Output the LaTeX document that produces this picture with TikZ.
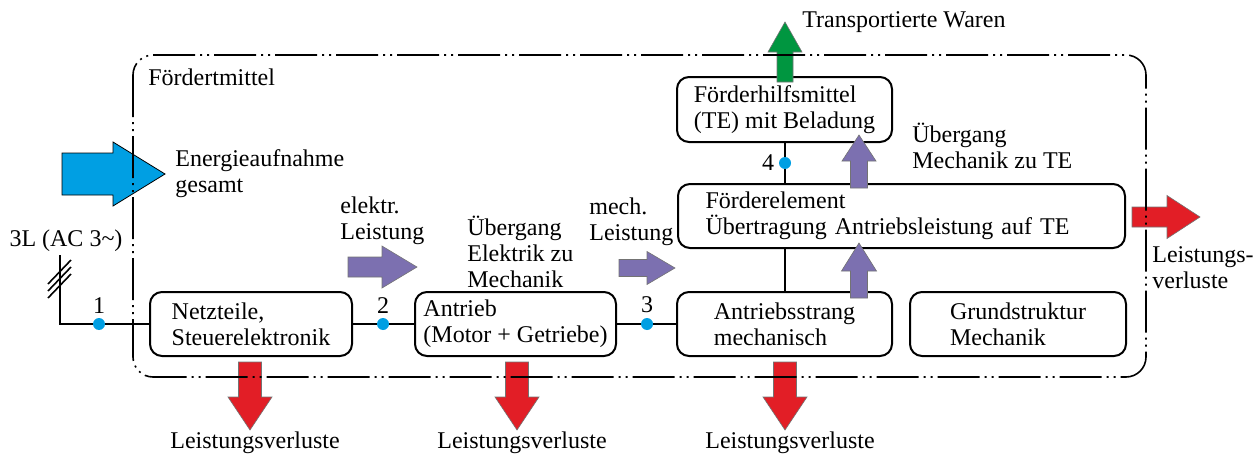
\documentclass[tikz,border=0pt]{standalone}
\usepackage{fontspec}
\setmainfont{Liberation Serif}
\usetikzlibrary{positioning}

\definecolor{energyblue}{RGB}{0,159,227}
\definecolor{powerviolet}{RGB}{124,112,176}
\definecolor{lossred}{RGB}{226,30,38}
\definecolor{goodsgreen}{RGB}{0,150,64}

% fat arrow: style, tail centre, angle, length, half shaft, half head, head length
\newcommand{\fatarrow}[7]{%
  \draw[#1, shift={#2}, rotate=#3]
    (0,-#5) -- (#4-#7,-#5) -- (#4-#7,-#6) -- (#4,0) -- (#4-#7,#6) -- (#4-#7,#5) -- (0,#5) -- cycle;}

\begin{document}
\begin{tikzpicture}[x=0.5pt, y=-0.5pt,
    font=\fontsize{12}{13}\selectfont,
    block/.style={draw, line width=1pt, rounded corners=6pt, fill=white,
                  align=left, inner sep=0pt, minimum height=32pt},
    wire/.style={line width=1pt},
    tap/.style={circle, fill=energyblue, inner sep=0pt, minimum size=6pt},
    tapno/.style={inner sep=1pt},
    note/.style={align=left, anchor=west, inner sep=0pt},
    frame/.style={line width=0.8pt, rounded corners=10pt,
                  dash pattern=on 21pt off 2.5pt on 1pt off 2.5pt on 1pt off 2.5pt},
    flow/.style={draw=black!55, line width=0.3pt},
]
\useasboundingbox (0,0) rectangle (1255,455);

% Blocks
\node[block, minimum width=101pt] (netz) at (251,324) {Netzteile,\\Steuerelektronik};
\node[block, minimum width=100.5pt] (antrieb) at (515.5,324) {Antrieb\\(Motor + Getriebe)};
\node[block, minimum width=107.5pt] (strang) at (784.5,324) {Antriebsstrang\\mechanisch};
\node[block, minimum width=108pt] (grund) at (1018,324) {Grundstruktur\\Mechanik};
\node[block, minimum width=223.5pt, text width=196pt, inner xsep=13.5pt]
    (felem) at (901.5,216) {Förderelement\\Übertragung Antriebsleistung auf TE};
\node[block, minimum width=107.5pt, minimum height=32.5pt] (fhm) at (784.5,109.5) {Förderhilfsmittel\\(TE) mit Beladung};

% Supply line with three phases
\coordinate (feed) at (60,255);
\node (mains) at (66,241) {3L (AC 3\textasciitilde)};
\draw[wire] (feed) |- (netz.west);
\foreach \i in {0,1,2}{
  \draw[line width=0.8pt] (48,{284+7*\i}) -- (71,{260+7*\i});
}

% Power path
\draw[wire] (netz) -- (antrieb);
\draw[wire] (antrieb) -- (strang);
\draw[wire] (strang.north) -- (strang.north |- felem.south);
\draw[wire] (fhm.south) -- (fhm.south |- felem.north);

% Measuring points
\node[tap] (t1) at (99,324) {};
\node[tap] (t2) at (383,324) {};
\node[tap] (t3) at (647,324) {};
\node[tap] (t4) at (785,163) {};
\node[tapno, above=1pt of t1] (n1) {1};
\node[tapno, above=1pt of t2] (n2) {2};
\node[tapno, above=1pt of t3] (n3) {3};
\node[tapno, left=1pt of t4] (n4) {4};

% Labels
\node[note] (fm) at (148,77) {Fördertmittel};
\node[note] (energy) at (175,174) {Energieaufnahme\\gesamt};
\node[note] (elpow) at (340,221) {elektr.\\Leistung};
\node[note] (elmech) at (467,252) {Übergang\\Elektrik zu\\Mechanik};
\node[note] (mechpow) at (589,222) {mech.\\Leistung};
\node[note] (mechte) at (912,146) {Übergang\\Mechanik zu TE};
\node[note] (goods) at (802,22) {Transportierte Waren};
\node[note] (lossr) at (1152,268) {Leistungs-\\verluste};

% Energy flows
\fatarrow{fill=energyblue}{(62,174)}{0}{103}{21}{32}{52}
\fatarrow{flow, fill=powerviolet}{(348,267)}{0}{69}{10}{21}{35}
\fatarrow{flow, fill=powerviolet}{(619,268)}{0}{56}{8.5}{16.5}{28}
\fatarrow{flow, fill=powerviolet}{(859,188)}{90}{53}{8.5}{17}{26}
\fatarrow{flow, fill=powerviolet}{(859,298)}{90}{55}{8.5}{17.5}{28}
\fatarrow{flow, fill=goodsgreen}{(785,82)}{90}{60}{8}{17}{30}
\fatarrow{flow, fill=lossred}{(1132,217)}{0}{68}{10}{21.5}{33}

% Losses below the blocks
\foreach \x/\i in {250/1, 517/2, 785/3}{
  \fatarrow{flow, fill=lossred}{(\x,362)}{-90}{68}{11.5}{22}{33}
  \node (loss\i) at (\x+5,443) {Leistungsverluste};
}

% System boundary
\draw[frame] (133,55) rectangle (1146,377);

\end{tikzpicture}
\end{document}
